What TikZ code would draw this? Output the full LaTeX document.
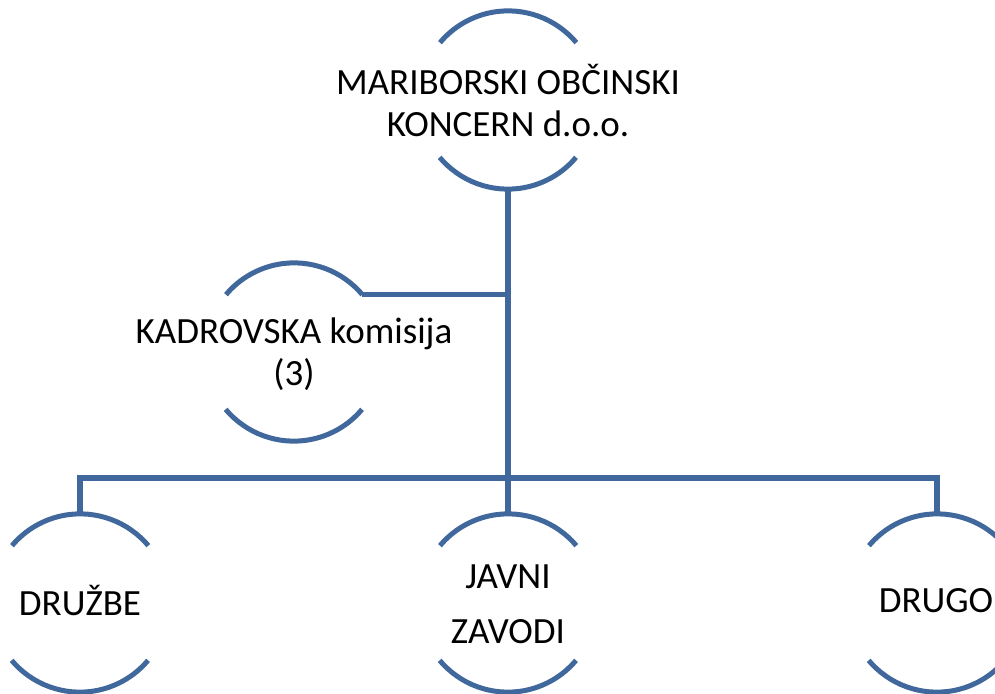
\documentclass[tikz,border=0pt]{standalone}
\usepackage{fontspec}
\setmainfont{Carlito}
\definecolor{lineblue}{RGB}{64,104,156}
\begin{document}
\begin{tikzpicture}[x=1pt,y=1pt,
  ring/.style={circle,minimum size=178pt,inner sep=0pt},
  txt/.style={inner sep=0pt,align=center,
    font=\fontsize{37}{42}\selectfont,text=black},
  conn/.style={draw=lineblue,line width=5.5pt},
  arcline/.style={draw=lineblue,line width=5pt}]
\useasboundingbox (0,0) rectangle (995,-693);
\node[ring] (top) at (508,-100) {};
\node[ring] (kad) at (294,-352) {};
\node[ring] (druzbe) at (80,-603) {};
\node[ring] (javni) at (508,-603) {};
\node[ring] (drugo) at (937,-603) {};
\node[txt] (topt) at (508,-101) {MARIBORSKI OBČINSKI\\KONCERN d.o.o.};
\node[txt] (kadt) at (294,-354) {KADROVSKA komisija\\(3)};
\node[txt] (druzbet) at (80,-600) {DRUŽBE};
\node[txt] (javnit) at (508,-604) {JAVNI\\[13pt]ZAVODI};
\node[txt] (drugot) at (936,-601) {DRUGO};
\foreach \n in {top,kad,druzbe,javni,drugo}{
  \draw[arcline] (\n.40) arc[start angle=40,end angle=140,radius=89pt];
  \draw[arcline] (\n.220) arc[start angle=220,end angle=320,radius=89pt];
}
\coordinate (bus) at (508,-478);
\draw[conn] (top.south) -- (javni.north);
\draw[conn] (kad.40) -- (kad.40 -| top.south);
\draw[conn] (druzbe.north) |- (bus) -| (drugo.north);
\end{tikzpicture}
\end{document}
